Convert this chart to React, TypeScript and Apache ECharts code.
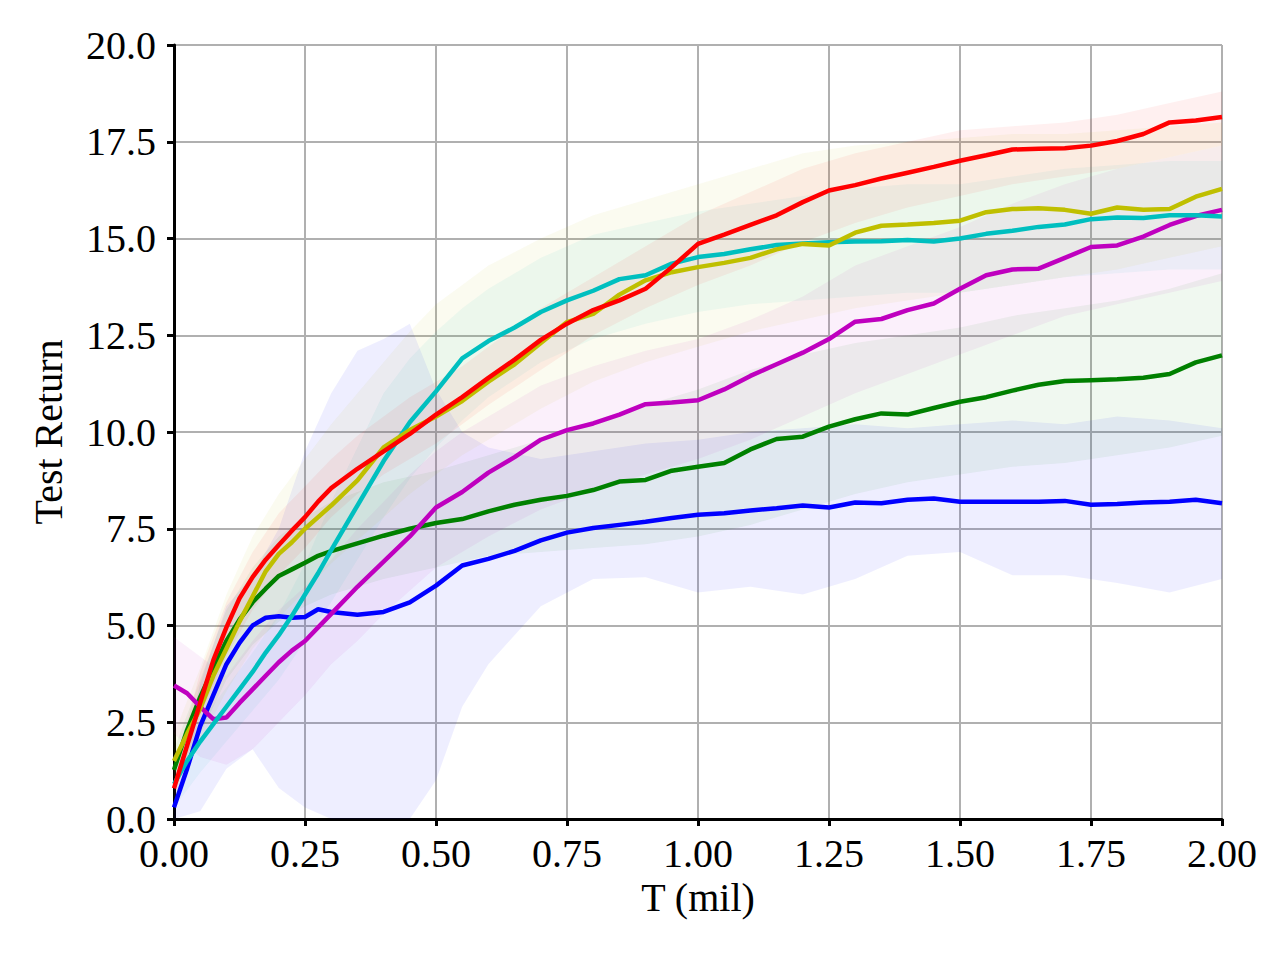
import React, { useEffect, useRef } from "react";
import * as echarts from "echarts";

// x positions (millions of steps) for the mean curves
const LX = [0, 0.025, 0.05, 0.075, 0.1, 0.125, 0.15, 0.175, 0.2, 0.225, 0.25, 0.275, 0.3, 0.35, 0.4, 0.45, 0.5, 0.55, 0.6, 0.65, 0.7, 0.75, 0.8, 0.85, 0.9, 0.95, 1.0, 1.05, 1.1, 1.15, 1.2, 1.25, 1.3, 1.35, 1.4, 1.45, 1.5, 1.55, 1.6, 1.65, 1.7, 1.75, 1.8, 1.85, 1.9, 1.95, 2.0];

const blueMean = [0.3, 1.3, 2.4, 3.2, 4.0, 4.55, 5.0, 5.2, 5.24, 5.2, 5.22, 5.42, 5.35, 5.28, 5.35, 5.6, 6.03, 6.55, 6.72, 6.93, 7.2, 7.4, 7.52, 7.6, 7.68, 7.78, 7.86, 7.9, 7.97, 8.03, 8.1, 8.05, 8.18, 8.16, 8.25, 8.28, 8.2, 8.2, 8.2, 8.2, 8.22, 8.12, 8.14, 8.18, 8.2, 8.25, 8.16];
const greenMean = [1.27, 2.3, 3.15, 3.9, 4.6, 5.15, 5.6, 5.95, 6.28, 6.45, 6.62, 6.8, 6.92, 7.12, 7.32, 7.5, 7.65, 7.75, 7.95, 8.12, 8.25, 8.35, 8.5, 8.72, 8.76, 9.0, 9.1, 9.2, 9.55, 9.82, 9.88, 10.14, 10.33, 10.48, 10.45, 10.62, 10.78, 10.9, 11.07, 11.22, 11.32, 11.34, 11.36, 11.4, 11.5, 11.8, 11.98];
const magentaMean = [3.45, 3.25, 2.9, 2.58, 2.62, 3.0, 3.35, 3.7, 4.05, 4.35, 4.6, 4.95, 5.3, 6.0, 6.65, 7.3, 8.05, 8.45, 8.95, 9.35, 9.8, 10.05, 10.22, 10.45, 10.72, 10.76, 10.82, 11.1, 11.45, 11.75, 12.05, 12.4, 12.85, 12.92, 13.15, 13.32, 13.7, 14.05, 14.2, 14.22, 14.5, 14.78, 14.82, 15.05, 15.35, 15.58, 15.74];
const cyanMean = [0.9, 1.5, 2.0, 2.45, 2.9, 3.35, 3.8, 4.3, 4.75, 5.25, 5.8, 6.35, 6.95, 8.1, 9.25, 10.25, 11.05, 11.9, 12.35, 12.7, 13.1, 13.4, 13.65, 13.95, 14.05, 14.35, 14.52, 14.6, 14.72, 14.83, 14.87, 14.9, 14.92, 14.93, 14.96, 14.92, 15.0, 15.12, 15.2, 15.3, 15.36, 15.5, 15.54, 15.53, 15.6, 15.6, 15.57];
const yellowMean = [1.5, 2.2, 2.85, 3.7, 4.4, 5.1, 5.75, 6.4, 6.85, 7.15, 7.5, 7.8, 8.1, 8.75, 9.6, 10.05, 10.4, 10.8, 11.3, 11.75, 12.3, 12.84, 13.05, 13.55, 13.92, 14.13, 14.26, 14.37, 14.5, 14.72, 14.86, 14.82, 15.15, 15.33, 15.36, 15.4, 15.46, 15.68, 15.76, 15.78, 15.74, 15.64, 15.8, 15.74, 15.76, 16.08, 16.28];
const redMean = [0.79, 1.9, 3.0, 4.1, 4.95, 5.7, 6.25, 6.7, 7.08, 7.45, 7.8, 8.2, 8.55, 9.05, 9.5, 9.95, 10.45, 10.9, 11.4, 11.87, 12.38, 12.8, 13.15, 13.4, 13.7, 14.26, 14.86, 15.1, 15.35, 15.6, 15.94, 16.24, 16.38, 16.55, 16.7, 16.85, 17.01, 17.15, 17.3, 17.32, 17.33, 17.4, 17.52, 17.7, 18.0, 18.05, 18.14];

// x positions for the shaded bands
const BX = [0, 0.05, 0.1, 0.15, 0.2, 0.25, 0.3, 0.35, 0.4, 0.45, 0.5, 0.55, 0.6, 0.7, 0.8, 0.9, 1.0, 1.1, 1.2, 1.3, 1.4, 1.5, 1.6, 1.7, 1.8, 1.9, 2.0];

const blueLo = [0, 0.2, 1.3, 1.8, 0.8, 0.3, 0, 0, 0, 0, 1.0, 2.9, 4.0, 5.5, 6.2, 6.25, 5.85, 6.0, 5.8, 6.2, 6.8, 6.9, 6.3, 6.3, 6.1, 5.85, 6.2];
const blueHi = [0.6, 3.5, 5.5, 6.3, 7.5, 9.5, 11.0, 12.1, 12.4, 12.8, 11.1, 10.0, 9.6, 9.3, 9.5, 9.7, 9.8, 10.0, 10.1, 10.2, 10.1, 10.2, 10.3, 10.2, 10.4, 10.3, 10.1];
const greenLo = [0.8, 2.2, 3.6, 4.5, 5.1, 5.5, 5.8, 6.0, 6.2, 6.35, 6.5, 6.65, 6.8, 6.9, 7.0, 7.1, 7.3, 7.6, 8.0, 8.4, 8.7, 8.9, 9.1, 9.2, 9.4, 9.6, 9.9];
const greenHi = [1.8, 3.6, 5.4, 6.5, 7.3, 7.8, 8.2, 8.45, 8.7, 8.85, 9.0, 9.2, 9.4, 9.8, 10.3, 10.7, 11.1, 11.6, 12.0, 12.3, 12.5, 12.7, 13.0, 13.2, 13.4, 13.7, 14.1];
const magentaLo = [2.2, 1.6, 1.4, 1.8, 2.5, 3.2, 4.0, 4.6, 5.3, 5.9, 6.5, 6.9, 7.3, 8.0, 8.5, 8.9, 9.3, 9.8, 10.4, 11.0, 11.5, 12.0, 12.5, 13.0, 13.3, 13.6, 13.9];
const magentaHi = [4.7, 4.2, 3.7, 4.6, 5.4, 6.0, 6.7, 7.5, 8.2, 8.9, 9.5, 10.0, 10.4, 11.2, 11.7, 12.1, 12.4, 12.9, 13.5, 14.3, 14.8, 15.3, 15.9, 16.4, 16.8, 17.1, 17.4];
const cyanLo = [0.3, 1.2, 2.0, 2.8, 3.6, 4.6, 5.6, 6.7, 7.8, 8.8, 9.6, 10.3, 10.9, 11.8, 12.4, 12.8, 13.1, 13.3, 13.4, 13.5, 13.6, 13.6, 13.8, 14.0, 14.1, 14.2, 14.2];
const cyanHi = [1.6, 2.5, 3.4, 4.3, 5.3, 6.6, 8.2, 9.6, 11.0, 11.9, 12.6, 13.2, 13.7, 14.5, 15.1, 15.4, 15.7, 15.9, 16.1, 16.3, 16.4, 16.4, 16.6, 16.8, 16.9, 17.0, 17.0];
const yellowLo = [0.8, 2.0, 3.3, 4.4, 5.2, 5.9, 6.6, 7.2, 7.8, 8.4, 8.9, 9.4, 9.8, 10.6, 11.3, 11.8, 12.2, 12.6, 12.9, 13.2, 13.4, 13.6, 13.8, 14.0, 14.2, 14.5, 14.8];
const yellowHi = [2.2, 3.9, 5.8, 7.3, 8.4, 9.3, 10.2, 11.0, 11.8, 12.6, 13.3, 13.8, 14.3, 15.0, 15.6, 16.0, 16.4, 16.8, 17.2, 17.4, 17.5, 17.6, 17.7, 17.7, 17.8, 17.9, 18.0];
const redLo = [0.4, 2.7, 4.2, 5.4, 6.3, 7.0, 7.8, 8.4, 8.9, 9.3, 9.7, 10.2, 10.7, 11.6, 12.5, 13.2, 13.8, 14.3, 14.9, 15.4, 15.8, 16.1, 16.4, 16.6, 16.8, 17.1, 17.4];
const redHi = [1.2, 3.8, 5.6, 6.9, 7.9, 8.6, 9.3, 9.9, 10.4, 10.9, 11.3, 11.7, 12.2, 13.2, 14.0, 14.8, 15.6, 16.2, 16.8, 17.2, 17.5, 17.8, 17.9, 18.0, 18.2, 18.5, 18.8];

const xTicks = [0, 2, 0.25];
const yTicks = [0, 20, 2.5];

const SERIES = [
  { name: "blue", color: "#0000ff", fill: "rgba(0,0,255,0.065)", mean: blueMean, lo: blueLo, hi: blueHi },
  { name: "green", color: "#008000", fill: "rgba(0,128,0,0.06)", mean: greenMean, lo: greenLo, hi: greenHi },
  { name: "magenta", color: "#bf00bf", fill: "rgba(191,0,191,0.06)", mean: magentaMean, lo: magentaLo, hi: magentaHi },
  { name: "cyan", color: "#00bfbf", fill: "rgba(0,191,191,0.06)", mean: cyanMean, lo: cyanLo, hi: cyanHi },
  { name: "yellow", color: "#bfbf00", fill: "rgba(191,191,0,0.06)", mean: yellowMean, lo: yellowLo, hi: yellowHi },
  { name: "red", color: "#ff0000", fill: "rgba(255,0,0,0.06)", mean: redMean, lo: redLo, hi: redHi },
];

const FONT = "'Liberation Serif', 'Times New Roman', serif";

export default function App() {
  const ref = useRef<HTMLDivElement>(null);
  useEffect(() => {
    document.body.style.margin = "0";
    const chart = echarts.init(ref.current!, undefined, { renderer: "svg" });

    const bandSeries = SERIES.map((s) => ({
      type: "custom",
      name: s.name + " band",
      z: 1,
      clip: true,
      silent: true,
      encode: { x: 0, y: [1, 2] },
      data: BX.map((x, i) => [x, s.lo[i], s.hi[i]]),
      renderItem: (params: any, api: any) => {
        if (params.dataIndex !== 0) return null;
        const pts: number[][] = [];
        for (let i = 0; i < BX.length; i++) pts.push(api.coord([BX[i], s.hi[i]]));
        for (let i = BX.length - 1; i >= 0; i--) pts.push(api.coord([BX[i], s.lo[i]]));
        return {
          type: "polygon",
          shape: { points: pts },
          style: { fill: s.fill, stroke: "none" },
        };
      },
    }));

    const lineSeries = SERIES.map((s) => ({
      type: "line",
      name: s.name,
      z: 3,
      showSymbol: false,
      symbol: "none",
      data: LX.map((x, i) => [x, s.mean[i]]),
      lineStyle: { color: s.color, width: 4.5 },
      itemStyle: { color: s.color },
    }));

    chart.setOption({
      animation: false,
      backgroundColor: "#ffffff",
      grid: { left: 174, right: 58, top: 45, bottom: 141, containLabel: false },
      xAxis: {
        type: "value",
        min: xTicks[0],
        max: xTicks[1],
        interval: xTicks[2],
        name: "T (mil)",
        nameLocation: "middle",
        nameGap: 57,
        nameTextStyle: { fontFamily: FONT, fontSize: 40, color: "#000" },
        axisLine: { show: true, lineStyle: { color: "#000", width: 3 } },
        axisTick: { show: true, length: 7, lineStyle: { color: "#000", width: 3 } },
        axisLabel: {
          fontFamily: FONT,
          fontSize: 40,
          color: "#000",
          margin: 14,
          formatter: (v: number) => v.toFixed(2),
        },
        splitLine: { show: true, lineStyle: { color: "#b0b0b0", width: 2 } },
      },
      yAxis: {
        type: "value",
        min: yTicks[0],
        max: yTicks[1],
        interval: yTicks[2],
        name: "Test Return",
        nameLocation: "middle",
        nameGap: 106,
        nameTextStyle: { fontFamily: FONT, fontSize: 40, color: "#000" },
        axisLine: { show: true, lineStyle: { color: "#000", width: 3 } },
        axisTick: { show: true, length: 7, lineStyle: { color: "#000", width: 3 } },
        axisLabel: {
          fontFamily: FONT,
          fontSize: 40,
          color: "#000",
          margin: 18,
          formatter: (v: number) => v.toFixed(1),
        },
        splitLine: { show: true, lineStyle: { color: "#b0b0b0", width: 2 } },
      },
      series: [...bandSeries, ...lineSeries],
    });

    return () => chart.dispose();
  }, []);

  return <div ref={ref} style={{ width: 1280, height: 960 }} />;
}
